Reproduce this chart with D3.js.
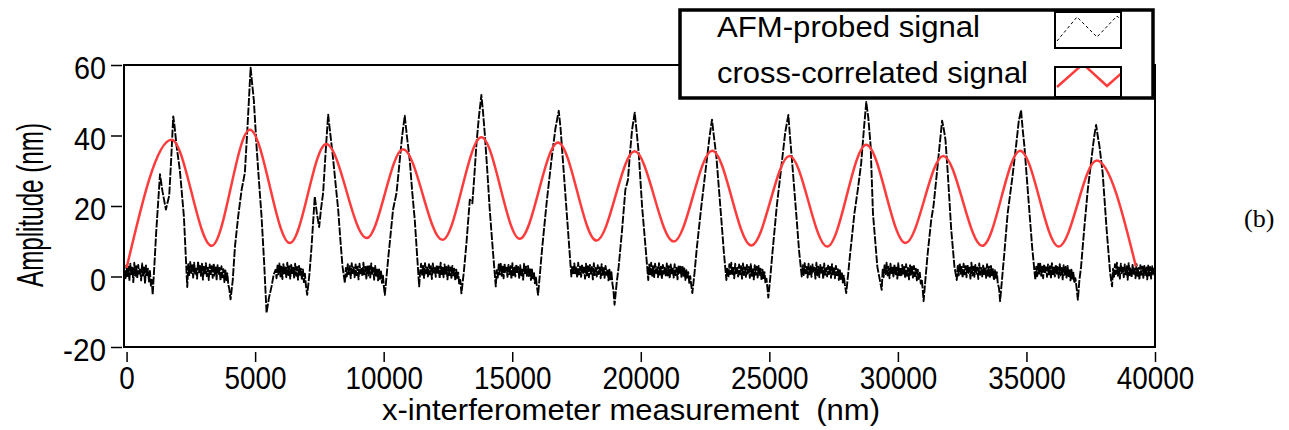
<!DOCTYPE html>
<html>
<head>
<meta charset="utf-8">
<script src="https://cdn.jsdelivr.net/npm/d3@7"></script>
<style>
  html, body { margin: 0; padding: 0; background: #fff; }
  svg { display: block; }
  text { font-family: "Liberation Sans", Arial, Helvetica, sans-serif; fill: #000; }
</style>
</head>
<body>
<div id="chart"></div>
<script>
// ----- Data -----
const xTicks = [0, 5000, 10000, 15000, 20000, 25000, 30000, 35000, 40000];
const yTicks = [-20, 0, 20, 40, 60];
const legendLabels = ["AFM-probed signal", "cross-correlated signal"];

// AFM-probed signal: [x (nm), amplitude (nm)]
// flat stretches carry the probe noise, each bump is one grating line
const afmSignal = [
  [-80,1.5],[-42,-0.8],[-4,3.2],[34,0.1],[72,2.8],[110,-1.2],[148,3.6],[186,0.4],[224,2.5],[262,-1.6],
  [300,3.9],[338,0.2],[376,2.9],[414,-0.5],[452,3.3],[490,0.8],[528,2.4],[566,-1.1],[604,3.7],[642,0.3],
  [680,2.6],[718,-2.0],[756,3.1],[794,0.0],[832,2.2],[870,-1.4],[908,1.6],[946,-2.6],[980,-1.0],[1015,-5.2],
  [1080,3],[1150,12.3],[1300,29],[1400,24],[1530,19],[1660,23],[1740,34],[1815,45.4],[1860,43],
  [1945,37],[2075,30],[2230,17],[2360,-3],
  [2400,3.5],[2438,0.4],[2476,4.1],[2514,1.0],[2552,3.2],[2590,-0.3],[2628,3.9],[2666,0.8],[2704,2.7],
  [2742,-0.6],[2780,4.3],[2818,1.2],[2856,3.0],[2894,0.2],[2932,3.6],[2970,-0.9],[3008,2.8],[3046,0.6],
  [3084,3.8],[3122,0.1],[3160,2.5],[3198,-1.0],[3236,3.4],[3274,0.7],[3312,2.9],[3350,-0.4],[3388,3.7],
  [3426,0.3],[3464,2.6],[3502,-0.8],[3540,3.2],[3578,0.5],[3616,2.4],[3654,-1.2],[3692,2.9],[3730,-0.2],
  [3768,2.1],[3806,-1.6],[3844,1.7],[3882,-1.0],[3920,0.9],[3958,-2.4],[3995,-3.5],[4045,-6.5],
  [4130,-1],[4215,8.4],[4340,17],[4475,24.6],[4600,29.4],[4700,42],[4825,59.2],[4880,55],[4950,50],
  [5055,37],[5150,27],[5250,17],[5350,4],[5445,-10.3],[5540,-6],[5640,-2.8],[5720,0.5],
  [5795,1.9],[5833,-0.5],[5871,3.1],[5909,0.6],[5947,3.7],[5985,0.0],[6023,2.8],[6061,-0.7],[6099,3.5],
  [6137,0.9],[6175,2.6],[6213,-0.2],[6251,3.9],[6289,0.4],[6327,2.9],[6365,-0.6],[6403,3.3],[6441,1.0],
  [6479,2.5],[6517,-0.3],[6555,3.6],[6593,0.2],[6631,2.7],[6669,-0.9],[6707,3.0],[6745,0.5],[6783,2.2],
  [6821,-1.0],[6859,2.0],[6897,-1.6],[6935,0.8],[6973,-2.4],[7025,-5.2],
  [7110,0.5],[7195,8.5],[7320,22.7],[7400,18],[7490,14],[7560,19],[7645,23.7],[7740,35],[7840,45.9],
  [7900,42],[8010,35],[8120,27],[8230,19],[8320,10],[8400,2.8],
  [8490,-1.8],[8528,2.4],[8566,0.0],[8604,3.5],[8642,0.7],[8680,2.9],[8718,-0.5],[8756,3.8],[8794,1.0],
  [8832,2.6],[8870,-0.2],[8908,3.4],[8946,0.4],[8984,2.8],[9022,-0.8],[9060,3.6],[9098,0.9],[9136,2.5],
  [9174,0.1],[9212,3.9],[9250,0.6],[9288,2.7],[9326,-0.6],[9364,3.2],[9402,0.3],[9440,2.9],[9478,-0.3],
  [9516,3.7],[9554,0.8],[9592,2.4],[9630,-0.9],[9668,3.0],[9706,0.2],[9744,2.3],[9782,-1.1],[9820,2.0],
  [9858,-0.7],[9896,1.4],[9934,-1.8],[9972,0.2],[10010,-3.0],[10045,-5.2],
  [10170,4.7],[10270,12],[10365,19],[10500,23.7],[10625,33],[10720,40],[10820,45.6],[10900,40],
  [11015,33],[11110,24],[11210,16],[11300,6],
  [11380,-2.8],[11418,1.4],[11456,3.6],[11494,0.5],[11532,3.0],[11570,-0.4],[11608,3.8],[11646,0.9],
  [11684,2.6],[11722,0.0],[11760,3.5],[11798,0.6],[11836,2.9],[11874,-0.7],[11912,3.7],[11950,1.1],
  [11988,2.4],[12026,-0.1],[12064,3.3],[12102,0.7],[12140,2.8],[12178,-0.6],[12216,3.9],[12254,0.3],
  [12292,2.5],[12330,-0.2],[12368,3.4],[12406,0.8],[12444,2.7],[12482,-0.8],[12520,3.1],[12558,0.4],
  [12596,2.6],[12634,-0.4],[12672,3.0],[12710,0.1],[12748,2.2],[12786,-1.2],[12824,1.9],[12862,-0.6],
  [12900,1.1],[12938,-2.2],[12980,-1.0],[13025,-4.8],
  [13120,1.5],[13220,9.5],[13350,21.8],[13450,20.8],[13530,29],[13610,37.8],[13700,45],[13800,51.5],
  [13860,47],[13930,40.7],[14030,30],[14125,19],[14240,8],
  [14360,-2.8],[14398,1.8],[14436,-0.3],[14474,3.4],[14512,0.6],[14550,3.9],[14588,0.2],[14626,2.8],
  [14664,-0.5],[14702,3.6],[14740,1.0],[14778,2.5],[14816,-0.1],[14854,3.3],[14892,0.7],[14930,2.9],
  [14968,-0.7],[15006,3.8],[15044,0.4],[15082,2.6],[15120,0.0],[15158,3.5],[15196,0.9],[15234,2.7],
  [15272,-0.4],[15310,3.2],[15348,0.3],[15386,2.4],[15424,-0.9],[15462,3.6],[15500,0.6],[15538,2.8],
  [15576,-0.2],[15614,3.0],[15652,0.1],[15690,2.3],[15728,-1.0],[15766,2.0],[15804,-0.5],[15842,1.3],
  [15880,-1.9],[15918,0.0],[15960,-2.8],[16005,-5.2],
  [16080,1],[16170,8.5],[16350,21.8],[16525,33],[16680,42],[16810,47],[16880,42],[16970,33],
  [17050,25],[17130,17],[17220,8],
  [17300,0.0],[17338,3.1],[17376,0.5],[17414,3.7],[17452,0.9],[17490,2.6],[17528,-0.3],[17566,3.9],
  [17604,0.6],[17642,2.8],[17680,-0.1],[17718,3.4],[17756,1.0],[17794,2.5],[17832,-0.6],[17870,3.6],
  [17908,0.3],[17946,2.9],[17984,-0.2],[18022,3.3],[18060,0.8],[18098,2.7],[18136,-0.8],[18174,3.8],
  [18212,0.4],[18250,2.4],[18288,0.0],[18326,3.2],[18364,0.7],[18402,2.6],[18440,-0.5],[18478,3.5],
  [18516,0.2],[18554,2.8],[18592,-0.4],[18630,3.0],[18668,0.5],[18706,2.1],[18744,-1.1],[18782,1.9],
  [18820,-0.8],[18858,1.2],[18896,-2.0],[18935,-3.8],[18980,-8],
  [19060,-2],[19140,2.8],[19270,13],[19400,24.6],[19500,27.4],[19580,35],[19660,41.6],[19765,46.5],
  [19840,41],[19920,35],[20050,19.9],[20205,6.6],
  [20290,-1.0],[20328,3.4],[20366,0.6],[20404,3.9],[20442,0.2],[20480,2.9],[20518,-0.4],[20556,3.6],
  [20594,1.0],[20632,2.6],[20670,-0.2],[20708,3.8],[20746,0.5],[20784,2.8],[20822,-0.7],[20860,3.3],
  [20898,0.8],[20936,2.5],[20974,0.0],[21012,3.7],[21050,0.3],[21088,2.9],[21126,-0.5],[21164,3.4],
  [21202,0.9],[21240,2.7],[21278,-0.3],[21316,3.5],[21354,0.4],[21392,2.4],[21430,-0.8],[21468,3.1],
  [21506,0.6],[21544,2.8],[21582,-0.1],[21620,3.0],[21658,0.2],[21696,2.3],[21734,-1.0],[21772,1.8],
  [21810,-0.6],[21848,1.2],[21886,-1.8],[21924,0.1],[21965,-2.6],[22005,-4.7],
  [22090,1],[22185,8.5],[22355,19.9],[22550,32],[22680,40],[22770,44.5],[22840,40],[22940,34],
  [23135,16],[23230,7],
  [23330,-1.0],[23368,2.6],[23406,-0.2],[23444,3.5],[23482,0.7],[23520,3.9],[23558,0.3],[23596,2.8],
  [23634,-0.5],[23672,3.6],[23710,0.9],[23748,2.5],[23786,0.0],[23824,3.4],[23862,0.6],[23900,2.9],
  [23938,-0.6],[23976,3.7],[24014,0.4],[24052,2.6],[24090,-0.1],[24128,3.3],[24166,0.8],[24204,2.7],
  [24242,-0.4],[24280,3.5],[24318,0.2],[24356,2.4],[24394,-0.8],[24432,3.2],[24470,0.5],[24508,2.8],
  [24546,-0.3],[24584,3.0],[24622,0.1],[24660,2.2],[24698,-1.1],[24736,1.9],[24774,-0.7],[24812,1.2],
  [24850,-2.0],[24888,-0.6],[24925,-3.2],[24960,-6],
  [25040,0],[25120,6.7],[25290,20],[25480,32],[25620,41],[25740,45.8],[25800,40],[25870,34],
  [26065,16],[26160,7],
  [26260,0.0],[26298,3.2],[26336,0.4],[26374,3.8],[26412,0.9],[26450,2.7],[26488,-0.3],[26526,3.6],
  [26564,0.6],[26602,2.9],[26640,-0.1],[26678,3.4],[26716,1.0],[26754,2.5],[26792,-0.6],[26830,3.9],
  [26868,0.3],[26906,2.8],[26944,-0.2],[26982,3.3],[27020,0.8],[27058,2.6],[27096,-0.7],[27134,3.7],
  [27172,0.5],[27210,2.4],[27248,0.0],[27286,3.1],[27324,0.7],[27362,2.7],[27400,-0.4],[27438,3.5],
  [27476,0.2],[27514,2.8],[27552,-0.5],[27590,3.0],[27628,0.4],[27666,2.1],[27704,-1.0],[27742,1.8],
  [27780,-0.7],[27818,1.3],[27856,-1.7],[27894,0.2],[27940,-2.4],[27990,-4.7],
  [28070,1],[28145,6.6],[28310,18],[28440,24.6],[28570,32],[28680,42],[28770,49.5],[28850,45],
  [28940,37],[29030,18],[29200,2.8],
  [29370,-3.8],[29408,1.9],[29446,-0.2],[29484,3.5],[29522,0.7],[29560,3.9],[29598,0.3],[29636,2.8],
  [29674,-0.5],[29712,3.6],[29750,1.0],[29788,2.5],[29826,0.0],[29864,3.4],[29902,0.6],[29940,2.9],
  [29978,-0.6],[30016,3.8],[30054,0.4],[30092,2.6],[30130,-0.1],[30168,3.3],[30206,0.8],[30244,2.7],
  [30282,-0.4],[30320,3.5],[30358,0.2],[30396,2.4],[30434,-0.8],[30472,3.2],[30510,0.5],[30548,2.8],
  [30586,-0.3],[30624,3.0],[30662,0.1],[30700,2.2],[30738,-1.1],[30776,1.9],[30814,-0.7],[30852,1.1],
  [30890,-2.0],[30928,-0.8],[30965,-3.6],[31000,-7],
  [31080,0],[31160,6.6],[31295,16],[31385,20],[31490,27.4],[31620,37],[31720,44.2],[31780,42],
  [31850,38.8],[31940,29.3],[32075,13.2],[32200,2.8],
  [32290,-1.0],[32328,3.0],[32366,0.3],[32404,3.8],[32442,0.8],[32480,2.7],[32518,-0.4],[32556,3.6],
  [32594,0.6],[32632,2.9],[32670,-0.2],[32708,3.4],[32746,1.0],[32784,2.5],[32822,-0.6],[32860,3.9],
  [32898,0.3],[32936,2.8],[32974,-0.1],[33012,3.3],[33050,0.8],[33088,2.6],[33126,-0.7],[33164,3.7],
  [33202,0.5],[33240,2.4],[33278,0.0],[33316,3.1],[33354,0.7],[33392,2.7],[33430,-0.4],[33468,3.5],
  [33506,0.2],[33544,2.8],[33582,-0.5],[33620,3.0],[33658,0.4],[33696,2.1],[33734,-1.0],[33772,1.8],
  [33810,-0.7],[33848,1.2],[33886,-2.0],[33935,-3.4],[33975,-7],
  [34060,0],[34140,6.6],[34270,18],[34440,27.4],[34595,37],[34700,44],[34790,47.2],[34850,42],
  [34920,37],[35050,24.6],[35220,8.5],
  [35345,-1.0],[35383,2.8],[35421,0.1],[35459,3.6],[35497,0.8],[35535,3.9],[35573,0.2],[35611,2.8],
  [35649,-0.5],[35687,3.5],[35725,1.0],[35763,2.6],[35801,-0.1],[35839,3.4],[35877,0.6],[35915,2.9],
  [35953,-0.6],[35991,3.8],[36029,0.4],[36067,2.6],[36105,0.0],[36143,3.3],[36181,0.8],[36219,2.7],
  [36257,-0.4],[36295,3.5],[36333,0.3],[36371,2.4],[36409,-0.8],[36447,3.2],[36485,0.5],[36523,2.8],
  [36561,-0.3],[36599,3.0],[36637,0.1],[36675,2.2],[36713,-1.1],[36751,1.9],[36789,-0.6],[36827,1.1],
  [36865,-1.9],[36903,-0.5],[36950,-3.2],[37000,-6.6],
  [37060,-1],[37125,2.8],[37255,14.2],[37385,24.6],[37555,35],[37640,40],[37710,43],[37770,40],
  [37840,37],[37965,29.3],[38120,13.2],[38255,1],
  [38330,-2.8],[38368,2.2],[38406,-0.1],[38444,3.5],[38482,0.7],[38520,3.9],[38558,0.2],[38596,2.8],
  [38634,-0.6],[38672,3.6],[38710,1.0],[38748,2.5],[38786,-0.2],[38824,3.4],[38862,0.6],[38900,2.9],
  [38938,-0.9],[38976,3.8],[39014,0.4],[39052,2.6],[39090,-0.3],[39128,3.3],[39166,0.8],[39204,2.7],
  [39242,-0.5],[39280,3.5],[39318,0.2],[39356,2.4],[39394,-1.0],[39432,3.2],[39470,0.5],[39508,2.8],
  [39546,-0.4],[39584,3.0],[39622,0.1],[39660,2.6],[39698,-0.8],[39736,3.1],[39774,0.3],[39812,2.7],
  [39850,-0.6],[39888,2.9],[39926,0.4],[39964,2.2],[40000,-0.3]
];

// Cross-correlated signal: its turning points [x (nm), amplitude (nm)]
const correlated = [
  [0,2.4],[1750,38.8],[3310,8.7],[4795,41.6],[6350,9.5],[7765,37.6],[9340,10.9],
  [10755,36.1],[12285,10.4],[13800,39.5],[15290,10.7],[16780,38],[18275,10.2],
  [19760,35.5],[21280,9.9],[22780,35.7],[24300,8.8],[25785,34.2],[27250,8.5],
  [28770,37.4],[30295,9.5],[31765,34.2],[33280,8.7],[34755,35.7],[36255,8.5],
  [37730,32.9],[39260,2.8]
];

// ----- Layout -----
const W = 1289, H = 430;
const PLOT = { left: 124, right: 1155, top: 65, bottom: 347 };
const RED = "#ff3b3b";
const FONT = 31;

const svg = d3.select("#chart").append("svg")
  .attr("width", W).attr("height", H);

const x = d3.scaleLinear().domain([-100, 40000]).range([PLOT.left, PLOT.right]);
const y = d3.scaleLinear().domain([-20, 60]).range([PLOT.bottom, PLOT.top]);

svg.append("clipPath").attr("id", "plotClip")
  .append("rect")
  .attr("x", PLOT.left).attr("y", PLOT.top)
  .attr("width", PLOT.right - PLOT.left).attr("height", PLOT.bottom - PLOT.top);

// ----- Traces -----
const line = d3.line().x(d => x(d[0])).y(d => y(d[1]));
const plotG = svg.append("g").attr("clip-path", "url(#plotClip)");

// AFM trace: fine dashes; the noise is dense enough to read as a band
plotG.append("path")
  .datum(afmSignal)
  .attr("d", line)
  .attr("fill", "none")
  .attr("stroke", "#000")
  .attr("stroke-width", 1.9)
  .attr("stroke-linejoin", "round")
  .attr("stroke-dasharray", "8,1.5");

plotG.append("path")
  .datum(correlated)
  .attr("d", line.curve(d3.curveMonotoneX))
  .attr("fill", "none")
  .attr("stroke", RED)
  .attr("stroke-width", 2.5);

// ----- Frame -----
svg.append("rect")
  .attr("x", PLOT.left).attr("y", PLOT.top)
  .attr("width", PLOT.right - PLOT.left).attr("height", PLOT.bottom - PLOT.top)
  .attr("fill", "none").attr("stroke", "#000").attr("stroke-width", 2);

// ----- Axes -----
const xAxisG = svg.append("g")
  .attr("transform", `translate(0,${PLOT.bottom + 5})`)
  .call(d3.axisBottom(x).tickValues(xTicks).tickFormat(d => String(d)).tickSize(10).tickSizeOuter(0));
xAxisG.select(".domain").remove();
xAxisG.selectAll("line").attr("stroke", "#000").attr("stroke-width", 1.5);
xAxisG.selectAll("text")
  .attr("y", 37).attr("dy", 0)
  .attr("font-size", FONT)
  .attr("fill", "#000")
  .attr("textLength", d => String(d).length * 15.5)
  .attr("lengthAdjust", "spacingAndGlyphs");

const yAxisG = svg.append("g")
  .attr("transform", `translate(${PLOT.left - 2},0)`)
  .call(d3.axisLeft(y).tickValues(yTicks).tickFormat(d => String(d)).tickSize(11).tickSizeOuter(0));
yAxisG.select(".domain").remove();
yAxisG.selectAll("line").attr("stroke", "#000").attr("stroke-width", 1.5);
yAxisG.selectAll("text")
  .attr("x", -16).attr("dy", "0.45em")
  .attr("font-size", FONT)
  .attr("fill", "#000")
  .attr("textLength", d => (d < 0 ? 11 : 0) + String(Math.abs(d)).length * 16)
  .attr("lengthAdjust", "spacingAndGlyphs");

// Axis titles
svg.append("text")
  .attr("x", 631).attr("y", 420)
  .attr("text-anchor", "middle")
  .attr("font-size", 30)
  .style("white-space", "pre")
  .attr("textLength", 498)
  .attr("lengthAdjust", "spacingAndGlyphs")
  .text("x-interferometer measurement  (nm)");

svg.append("text")
  .attr("transform", "translate(43,205) rotate(-90)")
  .attr("text-anchor", "middle")
  .attr("font-size", 36)
  .attr("textLength", 164)
  .attr("lengthAdjust", "spacingAndGlyphs")
  .text("Amplitude (nm)");

// ----- Legend -----
const legend = svg.append("g");
legend.append("rect")
  .attr("x", 680).attr("y", 10).attr("width", 473).attr("height", 88)
  .attr("fill", "#fff").attr("stroke", "#000").attr("stroke-width", 3.5);

const legendRows = [
  { label: legendLabels[0], base: 37, box: [1055, 12, 66, 36],
    zig: [[1057, 41], [1077, 17], [1097, 37], [1117, 16], [1130, 28]],
    stroke: "#000", width: 1, dash: "3,2.5" },
  { label: legendLabels[1], base: 83, box: [1055, 67, 66, 30],
    zig: [[1057, 87], [1083, 64], [1107, 86], [1125, 70]],
    stroke: RED, width: 2.5, dash: null }
];

legendRows.forEach((r, i) => {
  legend.append("text")
    .attr("x", 717).attr("y", r.base)
    .attr("font-size", 30)
    .attr("textLength", i === 0 ? 263 : 311)
    .attr("lengthAdjust", "spacingAndGlyphs")
    .text(r.label);
  const [bx, by, bw, bh] = r.box;
  legend.append("clipPath").attr("id", "lgClip" + i)
    .append("rect").attr("x", bx).attr("y", by).attr("width", bw).attr("height", bh);
  legend.append("path")
    .attr("d", d3.line()(r.zig))
    .attr("clip-path", `url(#lgClip${i})`)
    .attr("fill", "none")
    .attr("stroke", r.stroke)
    .attr("stroke-width", r.width)
    .attr("stroke-dasharray", r.dash);
  legend.append("rect")
    .attr("x", bx).attr("y", by).attr("width", bw).attr("height", bh)
    .attr("fill", "none").attr("stroke", "#000").attr("stroke-width", 2);
});

// Panel tag
svg.append("text")
  .attr("x", 1244).attr("y", 227)
  .style("font-family", "'Liberation Serif', 'Times New Roman', serif")
  .attr("font-size", 26)
  .text("(b)");
</script>
</body>
</html>
